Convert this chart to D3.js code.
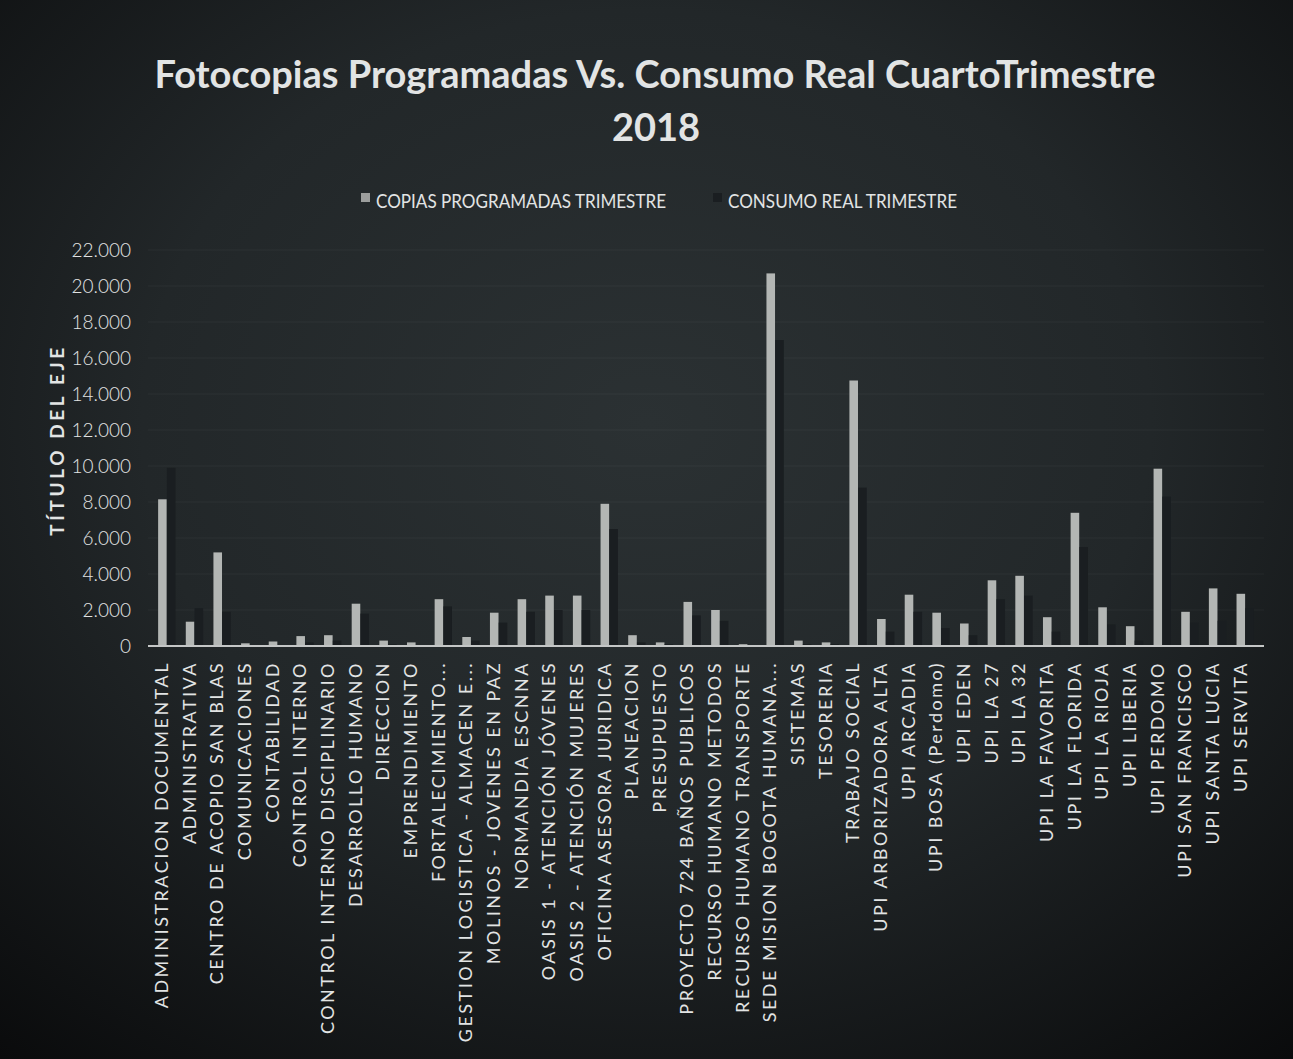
<!DOCTYPE html>
<html>
<head>
<meta charset="utf-8">
<script src="https://cdn.jsdelivr.net/npm/d3@7"></script>
<style>
  html, body { margin: 0; padding: 0; background: #0e1012; }
  svg { display: block; }
</style>
</head>
<body>
<svg id="chart" width="1293" height="1059"></svg>
<script>
const titleLines = ["Fotocopias Programadas Vs. Consumo Real CuartoTrimestre", "2018"];
const seriesNames = ["COPIAS PROGRAMADAS TRIMESTRE", "CONSUMO REAL TRIMESTRE"];
const yAxisTitle = "TÍTULO DEL EJE";
const yTicks = [0, 2000, 4000, 6000, 8000, 10000, 12000, 14000, 16000, 18000, 20000, 22000];

const categories = [
  "ADMINISTRACION DOCUMENTAL", "ADMINISTRATIVA", "CENTRO DE ACOPIO SAN BLAS",
  "COMUNICACIONES", "CONTABILIDAD", "CONTROL INTERNO", "CONTROL INTERNO DISCIPLINARIO",
  "DESARROLLO HUMANO", "DIRECCION", "EMPRENDIMIENTO", "FORTALECIMIENTO...",
  "GESTION LOGISTICA - ALMACEN E...", "MOLINOS - JOVENES EN PAZ", "NORMANDIA ESCNNA",
  "OASIS 1 - ATENCIÓN JÓVENES", "OASIS 2 - ATENCIÓN MUJERES", "OFICINA ASESORA JURIDICA",
  "PLANEACION", "PRESUPUESTO", "PROYECTO 724 BAÑOS PUBLICOS", "RECURSO HUMANO METODOS",
  "RECURSO HUMANO TRANSPORTE", "SEDE MISION BOGOTA HUMANA...", "SISTEMAS", "TESORERIA",
  "TRABAJO SOCIAL", "UPI ARBORIZADORA ALTA", "UPI ARCADIA", "UPI BOSA (Perdomo)",
  "UPI EDEN", "UPI LA 27", "UPI LA 32", "UPI LA FAVORITA", "UPI LA FLORIDA",
  "UPI LA RIOJA", "UPI LIBERIA", "UPI PERDOMO", "UPI SAN FRANCISCO",
  "UPI SANTA LUCIA", "UPI SERVITA"
];

const copiasProgramadas = [
  8150, 1350, 5200, 150, 250, 550, 600, 2350, 300, 200,
  2600, 500, 1850, 2600, 2800, 2800, 7900, 600, 200, 2450,
  2000, 100, 20700, 300, 200, 14750, 1500, 2850, 1850, 1250,
  3650, 3900, 1600, 7400, 2150, 1100, 9850, 1900, 3200, 2900
];

const consumoReal = [
  9900, 2100, 1900, 50, 50, 200, 300, 1800, 100, 50,
  2200, 300, 1300, 1900, 2000, 2000, 6500, 200, 100, 1700,
  1400, 50, 17000, 100, 100, 8800, 800, 1900, 1000, 600,
  2600, 2800, 800, 5500, 1200, 300, 8300, 1300, 1400, 2100
];

const svg = d3.select("#chart");
const W = 1293, H = 1059;
const FONT = "Lato, 'Open Sans', 'DejaVu Sans', sans-serif";
const TEXT = "#e2e4e4";

// background (dark photographed print)
const defs = svg.append("defs");
const rg = defs.append("radialGradient").attr("id", "bg")
  .attr("cx", "0.5").attr("cy", "0.4").attr("r", "0.78");
rg.append("stop").attr("offset", "0").attr("stop-color", "#2b3133");
rg.append("stop").attr("offset", "0.5").attr("stop-color", "#222729");
rg.append("stop").attr("offset", "1").attr("stop-color", "#0a0b0c");
svg.append("rect").attr("width", W).attr("height", H).attr("fill", "url(#bg)");

const plot = { left: 148, right: 1264, top: 250, bottom: 646 };

const x0 = d3.scaleBand().domain(categories)
  .range([plot.left, plot.right]).paddingInner(0.36).paddingOuter(0.36);
const x1 = d3.scaleBand().domain(seriesNames).range([0, x0.bandwidth()]).padding(0.02);
const y = d3.scaleLinear().domain([0, 22000]).range([plot.bottom, plot.top]);

// gridlines
svg.append("g").selectAll("line").data(yTicks.filter(d => d > 0)).join("line")
  .attr("x1", plot.left).attr("x2", plot.right)
  .attr("y1", d => y(d)).attr("y2", d => y(d))
  .attr("stroke", "#ffffff").attr("stroke-opacity", 0.04).attr("stroke-width", 1);

// y axis labels
const yAxis = d3.axisLeft(y).tickValues(yTicks).tickSize(0).tickPadding(0)
  .tickFormat(d => d === 0 ? "0" : d3.format(",")(d).replace(/,/g, "."));
const gy = svg.append("g").attr("transform", `translate(131,0)`).call(yAxis);
gy.select(".domain").remove();
gy.selectAll("text").attr("fill", TEXT).attr("font-family", FONT)
  .attr("font-size", 19).attr("font-weight", 300);

// y axis title
svg.append("text")
  .attr("transform", `translate(64,440) rotate(-90)`)
  .attr("text-anchor", "middle").attr("fill", TEXT)
  .attr("font-family", FONT).attr("font-size", 19).attr("font-weight", 700)
  .attr("letter-spacing", 3.6)
  .text(yAxisTitle);

// bars
const seriesData = [copiasProgramadas, consumoReal];
const seriesColors = ["#b3b6b4", "#1a1e21"];
const groups = svg.append("g").selectAll("g").data(categories).join("g")
  .attr("transform", d => `translate(${x0(d)},0)`);
groups.selectAll("rect")
  .data((d, i) => seriesNames.map((s, k) => ({ s, v: seriesData[k][i], k })))
  .join("rect")
  .attr("x", d => x1(d.s))
  .attr("width", x1.bandwidth())
  .attr("y", d => y(d.v))
  .attr("height", d => y(0) - y(d.v))
  .attr("fill", d => seriesColors[d.k]);

// x axis
const xAxis = d3.axisBottom(x0).tickSize(0).tickPadding(0);
const gx = svg.append("g").attr("transform", `translate(0,${plot.bottom})`).call(xAxis);
gx.select(".domain").attr("stroke", "#c4c6c6").attr("stroke-width", 2)
  .attr("d", `M${plot.left},0H${plot.right}`);
gx.selectAll("text")
  .attr("transform", "rotate(-90)")
  .attr("text-anchor", "end")
  .attr("x", -15).attr("y", -5).attr("dy", "0.35em")
  .attr("fill", TEXT).attr("font-family", FONT)
  .attr("font-size", 18).attr("letter-spacing", 2.5);

// title
svg.append("text").attr("x", 655).attr("y", 88).attr("text-anchor", "middle")
  .attr("fill", TEXT).attr("font-family", FONT).attr("font-size", 38).attr("font-weight", 700)
  .text(titleLines[0]);
svg.append("text").attr("x", 656).attr("y", 141).attr("text-anchor", "middle")
  .attr("fill", TEXT).attr("font-family", FONT).attr("font-size", 38).attr("font-weight", 700)
  .text(titleLines[1]);

// legend
const legend = svg.append("g");
const legendItems = [
  { name: seriesNames[0], color: "#9c9e9d", x: 361, tx: 376, len: 290 },
  { name: seriesNames[1], color: "#1a1e21", x: 713, tx: 728, len: 229 }
];
legendItems.forEach(it => {
  legend.append("rect").attr("x", it.x).attr("y", 193).attr("width", 9).attr("height", 9)
    .attr("fill", it.color);
  legend.append("text").attr("x", it.tx).attr("y", 208)
    .attr("fill", TEXT).attr("font-family", FONT).attr("font-size", 19)
    .attr("textLength", it.len).attr("lengthAdjust", "spacingAndGlyphs")
    .text(it.name);
});
</script>
</body>
</html>
